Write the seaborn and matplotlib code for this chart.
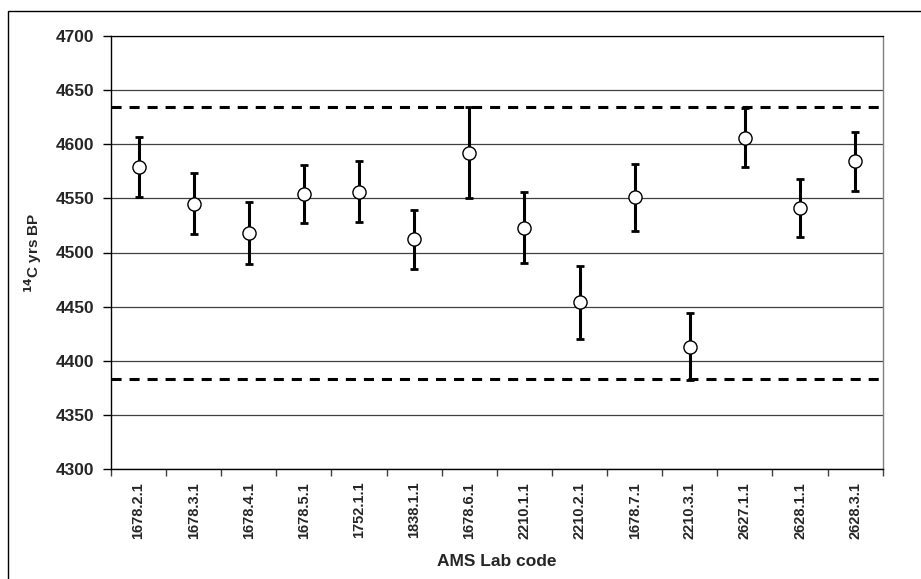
import matplotlib
matplotlib.use("Agg")
import matplotlib.pyplot as plt
import seaborn as sns
import numpy as np
import pandas as pd
from matplotlib.patches import Rectangle

lab_codes = ["1678.2.1", "1678.3.1", "1678.4.1", "1678.5.1", "1752.1.1", "1838.1.1",
             "1678.6.1", "2210.1.1", "2210.2.1", "1678.7.1", "2210.3.1", "2627.1.1",
             "2628.1.1", "2628.3.1"]
ages = [4579, 4545, 4518, 4554, 4556, 4512, 4592, 4523, 4454, 4551, 4413, 4606, 4541, 4584]
errors = [28, 28, 29, 27, 28, 27, 42, 33, 34, 31, 31, 27, 27, 27]
limit_upper = 4634
limit_lower = 4383
y_ticks = [4300, 4350, 4400, 4450, 4500, 4550, 4600, 4650, 4700]

sns.set_theme(style="white")
plt.rcParams['font.family'] = ['Liberation Sans', 'DejaVu Sans']

df = pd.DataFrame({"pos": np.arange(len(lab_codes)), "code": lab_codes,
                   "age": ages, "err": errors})

fig = plt.figure(figsize=(9.21, 5.79), dpi=100)
ax = fig.add_axes([111 / 921, 1 - 469.3 / 579, (882.7 - 111) / 921, (469.3 - 35.7) / 579])

ax.set_ylim(4300, 4700)
ax.set_yticks(y_ticks)
ax.yaxis.grid(True, color="#404040", linewidth=0.9)
ax.set_axisbelow(True)

for yv in (limit_upper, limit_lower):
    ax.axhline(yv, color="black", linewidth=2.2, dashes=(3.3, 2.6), zorder=2)

ax.errorbar(df["pos"], df["age"], yerr=df["err"], fmt="none", ecolor="black",
            elinewidth=2.2, capsize=3.2, capthick=2.0, zorder=3)
sns.scatterplot(data=df, x="pos", y="age", ax=ax, marker="o", s=90,
                facecolor="white", edgecolor="black", linewidth=1.0, zorder=4,
                legend=False)

ax.set_xlim(-0.5, len(lab_codes) - 0.5)
ax.set_xticks(np.arange(-0.5, len(lab_codes)), labels=[""] * (len(lab_codes) + 1))
ax.set_xticks(np.arange(len(lab_codes)), labels=lab_codes, minor=True)
ax.tick_params(axis="x", which="major", direction="out", length=5, width=1, color="#404040",
               bottom=True)
ax.tick_params(axis="x", which="minor", length=0, pad=9, bottom=True)
for lbl in ax.get_xticklabels(minor=True):
    lbl.set_rotation(90)
    lbl.set_fontsize(10.5)
    lbl.set_fontweight("bold")
ax.tick_params(axis="y", direction="out", length=6, width=1, color="black", left=True, pad=6)
ax.set_yticks(y_ticks, labels=[str(v) for v in y_ticks], fontsize=12.5, fontweight="bold")

ax.set_xlabel("AMS Lab code", fontsize=12.5, fontweight="bold", labelpad=11)
ax.set_ylabel(r"$^{\mathbf{14}}$C yrs BP", fontsize=11, fontweight="bold", labelpad=8)

for side in ("left", "bottom"):
    ax.spines[side].set_color("black")
    ax.spines[side].set_linewidth(1.0)
ax.spines["top"].set_color("black")
ax.spines["top"].set_linewidth(0.9)
ax.spines["right"].set_color("#808080")
ax.spines["right"].set_linewidth(1.0)

fig.patches.append(Rectangle((8.3 / 921, -0.01), (921 - 8.3 + 5) / 921, 1 - 11 / 579 + 0.01,
                             transform=fig.transFigure, fill=False, edgecolor="black",
                             linewidth=1.0, zorder=0))

fig.savefig("out.png", dpi=100)
